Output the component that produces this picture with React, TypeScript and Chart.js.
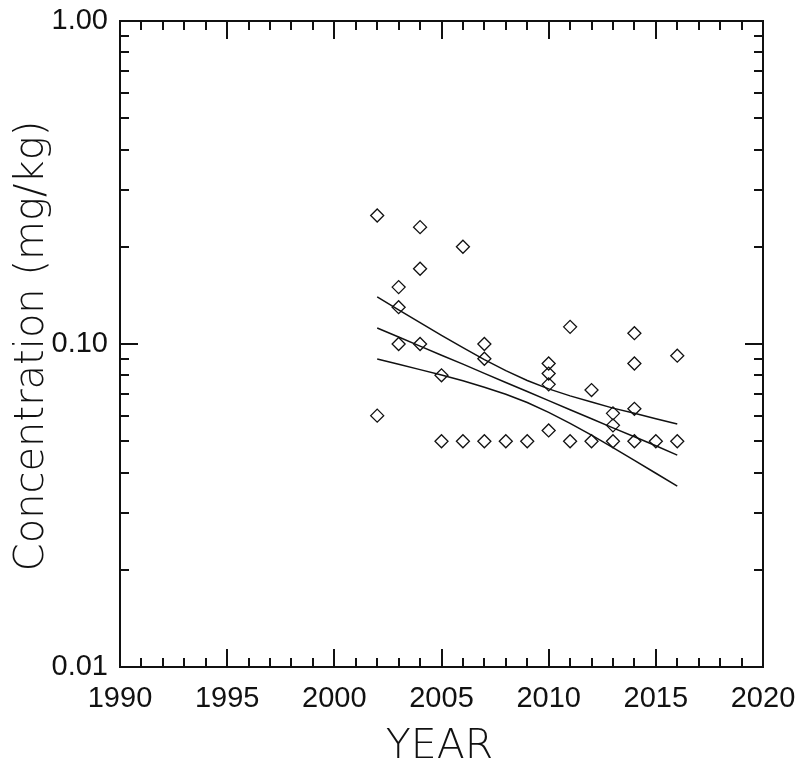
import React, { useEffect, useRef } from "react";
import { Chart, registerables } from "chart.js";

Chart.register(...registerables);

// Sample observations (year, concentration mg/kg)
const sampleYears = [
  2002, 2002,
  2003, 2003, 2003,
  2004, 2004, 2004,
  2005, 2005,
  2006, 2006,
  2007, 2007, 2007,
  2008,
  2009,
  2010, 2010, 2010, 2010,
  2011, 2011,
  2012, 2012,
  2013, 2013, 2013,
  2014, 2014, 2014, 2014,
  2015,
  2016, 2016,
];
const sampleConc = [
  0.25, 0.06,
  0.15, 0.13, 0.1,
  0.23, 0.171, 0.1,
  0.08, 0.05,
  0.2, 0.05,
  0.1, 0.09, 0.05,
  0.05,
  0.05,
  0.087, 0.081, 0.075, 0.054,
  0.113, 0.05,
  0.072, 0.05,
  0.061, 0.056, 0.05,
  0.108, 0.087, 0.063, 0.05,
  0.05,
  0.092, 0.05,
];

// Trend line and confidence band
const trendYears = [2002, 2003, 2004, 2005, 2006, 2007, 2008, 2009, 2010, 2011, 2012, 2013, 2014, 2015, 2016];
const trendUpper = [0.14, 0.1275, 0.1165, 0.1063, 0.0974, 0.0895, 0.0827, 0.0771, 0.0726, 0.0691, 0.0661, 0.0633, 0.061, 0.0587, 0.0565];
const trendMid = [0.1121, 0.1051, 0.0985, 0.0923, 0.0866, 0.0811, 0.076, 0.0713, 0.0668, 0.0626, 0.0587, 0.055, 0.0516, 0.0484, 0.0453];
const trendLower = [0.0899, 0.0866, 0.0833, 0.0802, 0.0769, 0.0735, 0.0699, 0.0659, 0.0614, 0.0568, 0.0522, 0.0478, 0.0436, 0.0398, 0.0363];

// Axes
const xMin = 1990;
const xMax = 2020;
const xTickValues = [1990, 1995, 2000, 2005, 2010, 2015, 2020];
const yTickValues = [0.01, 0.1, 1];
const yTickLabels = ["0.01", "0.10", "1.00"];
const yMinorValues = [0.02, 0.03, 0.04, 0.05, 0.06, 0.07, 0.08, 0.09, 0.2, 0.3, 0.4, 0.5, 0.6, 0.7, 0.8, 0.9];
const xTitle = "YEAR";
const yTitle = "Concentration (mg/kg)";

const INK = "#111";

const framePlugin = {
  id: "frameTicks",
  afterDraw(chart: any) {
    const { ctx, chartArea } = chart;
    const { left, right, top, bottom } = chartArea;
    const xs = chart.scales.x;
    const ys = chart.scales.y;
    ctx.save();
    ctx.strokeStyle = INK;
    ctx.lineWidth = 2;
    ctx.strokeRect(left, top, right - left, bottom - top);
    ctx.beginPath();
    for (let yr = xMin + 1; yr < xMax; yr++) {
      const px = Math.round(xs.getPixelForValue(yr));
      const len = yr % 5 === 0 ? 18 : 9;
      ctx.moveTo(px, bottom);
      ctx.lineTo(px, bottom - len);
      ctx.moveTo(px, top);
      ctx.lineTo(px, top + len);
    }
    const drawY = (v: number, len: number) => {
      const py = Math.round(ys.getPixelForValue(v));
      ctx.moveTo(left, py);
      ctx.lineTo(left + len, py);
      ctx.moveTo(right, py);
      ctx.lineTo(right - len, py);
    };
    yMinorValues.forEach((v) => drawY(v, 9));
    drawY(0.1, 18);
    ctx.stroke();

    // titles
    ctx.fillStyle = INK;
    ctx.font = "200 41px 'DejaVu Sans'";
    ctx.textAlign = "center";
    ctx.textBaseline = "alphabetic";
    ctx.fillText(xTitle, (left + right) / 2 - 2, 758);
    ctx.translate(33, (top + bottom) / 2 + 2);
    ctx.rotate(-Math.PI / 2);
    ctx.font = "200 40px 'DejaVu Sans'";
    ctx.textBaseline = "middle";
    ctx.fillText(yTitle, 0, 0);
    ctx.restore();
  },
};

export default function App() {
  const ref = useRef<HTMLCanvasElement | null>(null);
  useEffect(() => {
    if (!ref.current) return;
    const points = sampleYears.map((x, i) => ({ x, y: sampleConc[i] }));
    const mk = (vals: number[]) => trendYears.map((x, i) => ({ x, y: vals[i] }));
    const lineStyle = {
      showLine: true,
      pointRadius: 0,
      borderColor: INK,
      borderWidth: 1.5,
      backgroundColor: INK,
      fill: false,
    };
    const chart = new Chart(ref.current, {
      type: "scatter",
      data: {
        datasets: [
          {
            label: "samples",
            data: points,
            pointStyle: "rectRot",
            pointRadius: 6.5,
            borderWidth: 1.3,
            borderColor: INK,
            backgroundColor: "rgba(0,0,0,0)",
          },
          { label: "upper", data: mk(trendUpper), ...lineStyle },
          { label: "trend", data: mk(trendMid), ...lineStyle },
          { label: "lower", data: mk(trendLower), ...lineStyle },
        ],
      },
      options: {
        responsive: false,
        animation: false,
        layout: { padding: { top: 21, right: 34, left: 0, bottom: 0 } },
        plugins: { legend: { display: false }, tooltip: { enabled: false } },
        scales: {
          x: {
            type: "linear",
            min: xMin,
            max: xMax,
            grid: { display: false, drawTicks: false },
            border: { display: false },
            afterBuildTicks: (s: any) => {
              s.ticks = xTickValues.map((v) => ({ value: v }));
            },
            afterFit: (s: any) => {
              s.height = 99;
              s.paddingLeft = 0;
              s.paddingRight = 0;
            },
            ticks: {
              autoSkip: false,
              maxRotation: 0,
              padding: 15,
              color: INK,
              font: { family: "'Liberation Sans'", size: 29 },
              callback: (v: any) => String(v),
            },
          },
          y: {
            type: "logarithmic",
            min: 0.01,
            max: 1,
            grid: { display: false, drawTicks: false },
            border: { display: false },
            afterBuildTicks: (s: any) => {
              s.ticks = yTickValues.map((v) => ({ value: v }));
            },
            afterFit: (s: any) => {
              s.width = 120;
              s.paddingTop = 0;
              s.paddingBottom = 0;
            },
            ticks: {
              autoSkip: false,
              padding: 12,
              color: INK,
              font: { family: "'Liberation Sans'", size: 29 },
              callback: (v: any) => {
                const i = yTickValues.indexOf(Number(v));
                return i >= 0 ? yTickLabels[i] : "";
              },
            },
          },
        },
      },
      plugins: [framePlugin],
    } as any);
    return () => chart.destroy();
  }, []);
  return (
    <div style={{ position: "fixed", left: 0, top: 0, width: 797, height: 766, background: "#fff" }}>
      <canvas ref={ref} width={797} height={766} style={{ display: "block" }} />
    </div>
  );
}
